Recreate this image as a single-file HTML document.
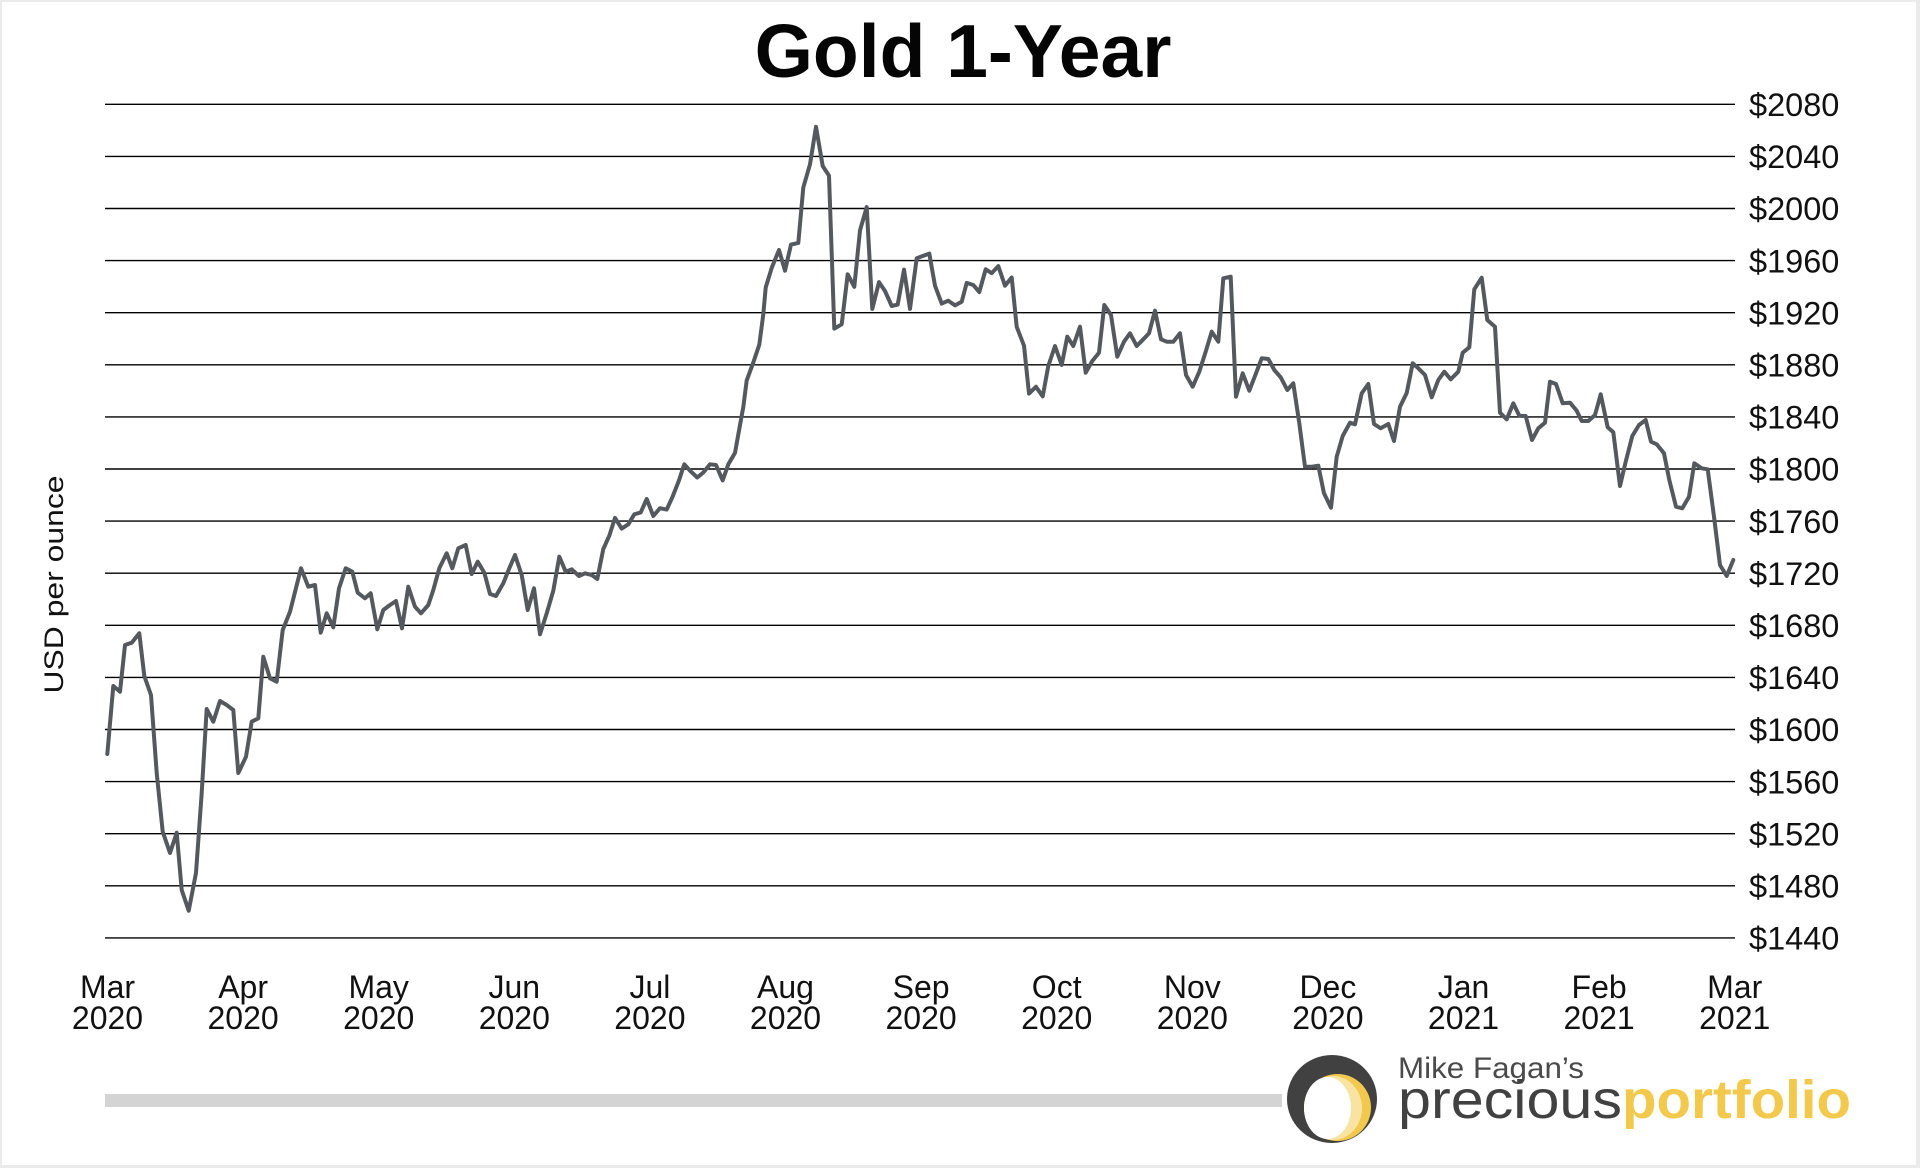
<!DOCTYPE html>
<html>
<head>
<meta charset="utf-8">
<style>
html,body{margin:0;padding:0;background:#fff;}
svg{display:block;}
text{font-family:"Liberation Sans", Arial, sans-serif;}
</style>
</head>
<body>
<svg width="1920" height="1168" viewBox="0 0 1920 1168" xmlns="http://www.w3.org/2000/svg">
  <rect x="0" y="0" width="1920" height="1168" fill="#ebebeb"/>
  <rect x="2" y="2" width="1914" height="1163" fill="#ffffff"/>

  <!-- Title -->
  <text x="963" y="77" text-anchor="middle" font-size="75" font-weight="bold" fill="#050505">Gold 1-Year</text>

  <!-- Grid lines -->
  <g stroke="#000" stroke-width="1.4">
    <line x1="105" x2="1735" y1="104.3" y2="104.3"/>
    <line x1="105" x2="1735" y1="156.4" y2="156.4"/>
    <line x1="105" x2="1735" y1="208.5" y2="208.5"/>
    <line x1="105" x2="1735" y1="260.6" y2="260.6"/>
    <line x1="105" x2="1735" y1="312.7" y2="312.7"/>
    <line x1="105" x2="1735" y1="364.8" y2="364.8"/>
    <line x1="105" x2="1735" y1="416.9" y2="416.9"/>
    <line x1="105" x2="1735" y1="469.0" y2="469.0"/>
    <line x1="105" x2="1735" y1="521.1" y2="521.1"/>
    <line x1="105" x2="1735" y1="573.2" y2="573.2"/>
    <line x1="105" x2="1735" y1="625.3" y2="625.3"/>
    <line x1="105" x2="1735" y1="677.4" y2="677.4"/>
    <line x1="105" x2="1735" y1="729.5" y2="729.5"/>
    <line x1="105" x2="1735" y1="781.6" y2="781.6"/>
    <line x1="105" x2="1735" y1="833.7" y2="833.7"/>
    <line x1="105" x2="1735" y1="885.8" y2="885.8"/>
    <line x1="105" x2="1735" y1="937.9" y2="937.9"/>
  </g>

  <!-- Y tick labels -->
  <g font-size="32.5" fill="#111">
    <text x="1749" y="116">$2080</text>
    <text x="1749" y="168.1">$2040</text>
    <text x="1749" y="220.2">$2000</text>
    <text x="1749" y="272.3">$1960</text>
    <text x="1749" y="324.4">$1920</text>
    <text x="1749" y="376.5">$1880</text>
    <text x="1749" y="428.6">$1840</text>
    <text x="1749" y="480.7">$1800</text>
    <text x="1749" y="532.8">$1760</text>
    <text x="1749" y="584.9">$1720</text>
    <text x="1749" y="637">$1680</text>
    <text x="1749" y="689.1">$1640</text>
    <text x="1749" y="741.2">$1600</text>
    <text x="1749" y="793.3">$1560</text>
    <text x="1749" y="845.4">$1520</text>
    <text x="1749" y="897.5">$1480</text>
    <text x="1749" y="949.6">$1440</text>
  </g>

  <!-- X tick labels -->
  <g font-size="32" fill="#111" text-anchor="middle">
    <text x="107.5" y="998">Mar</text><text x="107.5" y="1029">2020</text>
    <text x="243.1" y="998">Apr</text><text x="243.1" y="1029">2020</text>
    <text x="378.7" y="998">May</text><text x="378.7" y="1029">2020</text>
    <text x="514.3" y="998">Jun</text><text x="514.3" y="1029">2020</text>
    <text x="649.9" y="998">Jul</text><text x="649.9" y="1029">2020</text>
    <text x="785.5" y="998">Aug</text><text x="785.5" y="1029">2020</text>
    <text x="921.1" y="998">Sep</text><text x="921.1" y="1029">2020</text>
    <text x="1056.7" y="998">Oct</text><text x="1056.7" y="1029">2020</text>
    <text x="1192.3" y="998">Nov</text><text x="1192.3" y="1029">2020</text>
    <text x="1327.9" y="998">Dec</text><text x="1327.9" y="1029">2020</text>
    <text x="1463.5" y="998">Jan</text><text x="1463.5" y="1029">2021</text>
    <text x="1599.1" y="998">Feb</text><text x="1599.1" y="1029">2021</text>
    <text x="1734.7" y="998">Mar</text><text x="1734.7" y="1029">2021</text>
  </g>

  <!-- Y axis title -->
  <text transform="translate(63,584.5) rotate(-90)" text-anchor="middle" font-size="27" fill="#111" textLength="218" lengthAdjust="spacingAndGlyphs">USD per ounce</text>

  <!-- Data line -->
  <polyline fill="none" stroke="#55585c" stroke-width="4" stroke-linejoin="round" stroke-linecap="round" points="
107.3,754 113.3,686 120,691.7 125,645 131.7,642.7 139.3,633.3 144.3,676 151,695 156.7,773 162.7,831.7 170,853 176.7,832.7 181.7,890 188.7,910.7 196,873 201.7,793 206.7,709 213.3,721.7 220,701 226.7,705 233.3,710 238.3,773 246,756.7 251.7,721.7 258.3,718.3 263.3,656.7 270,678.3 276.7,681.7 282.7,630 290,611.7 301,568.3 308.3,586.7 315,585 320.7,632.7 326.7,613.3 333.3,627.3 339,588.3 345.7,568.3 352.3,571.7 357.7,592.7 365,598.3 370.7,593.3 377.3,629.3 383.3,610 390,605 396,601 402,628.3 408.3,586.7 415,606.7 421,613.3 428.3,605 433.3,590 439.3,568.3 446.7,553.3 452.3,568.3 458.3,548.3 465.7,545 471.7,574 477.7,561.7 484.3,572.7 490,594 496,596 503.3,583.3 509.3,568.3 515,555 521.7,575 527.7,610 534,588.3 540,634.3 546.7,613.3 553.3,590.7 559.3,556.7 565.7,571.7 571.7,569.3 579,576 585,573.3 591.7,575 597.3,579 603.3,549 609.3,535.7 615,517.9 621.7,528.6 628.3,524.3 634.3,514.3 640.7,512.5 646.7,498.9 653.3,516 660,508.2 666.7,509.6 672.7,496.4 679,480.4 684.3,464.3 690.7,471.4 697.3,477.5 703.3,472.5 710,464.3 716,465 722.7,480.4 728.3,464.3 735,452.9 740,425 743.3,407 746.7,380.4 753.3,362.5 759.3,344.6 763.3,314.3 765.7,287.5 771.7,267.9 779,250 785,270.7 791,244.6 798.3,242.9 803.3,187.5 810,164.3 816,126.8 822.7,166 829,175.7 834.3,328.6 841.7,324.3 847.7,274.3 854.3,286.8 860,230.4 866.7,207.1 872.3,308.9 879,282.1 885,291 891.7,306 897.7,304.6 904,269.6 910,308.9 916.7,258.2 922.7,256 929.3,253.6 935,285.7 941.7,303.6 948.3,300.7 955,305.4 961.7,301.8 966.7,282.9 973.3,285 979.3,292.1 985.7,269.3 991.7,273.2 998.3,266.1 1005,285.7 1011.7,277.5 1016.7,326.8 1024,345.7 1029,393.6 1036,386.8 1042.7,396.4 1048.3,366 1055,346 1061.7,365 1067.3,336.7 1073.3,346 1080,326.7 1085.7,372.7 1092.3,361 1099,352.7 1104.3,305 1111,315 1117.3,356.7 1124,341.7 1130,333.3 1136.7,346 1143.3,339.3 1149,333.3 1155,310.7 1161,339.3 1166.7,341.7 1173.3,341.7 1180,333.3 1186,375 1192.7,386.7 1199.3,371.7 1205.7,351.7 1211.7,331.7 1218.3,341.7 1223.3,278.3 1230.7,276.7 1236,396.7 1242.7,373.3 1249.3,390.7 1256,373.3 1261.7,358.3 1268.3,359 1274.3,370 1280.7,377.3 1287.3,390 1293.3,383.3 1299.3,423.3 1305,466.7 1311.7,466.7 1318.3,465.7 1324,493.3 1331,507.7 1336.7,456.7 1342.7,436 1350,422.7 1355,424.3 1361.7,393.3 1368.3,384 1374,424 1380.7,428.3 1388.3,424 1394,441 1400,406.7 1406.7,393 1412.7,363.3 1418.3,368.3 1425,375 1431.7,397.3 1438.3,380 1444.3,371.7 1450.7,379.3 1458.3,371.7 1462.7,352.7 1469.3,347.3 1474.3,289.3 1481.7,277.7 1487.3,320 1495,326.7 1500,412.7 1506.7,419.3 1513.3,403.3 1519.3,415.7 1525.7,416 1532,440 1538.3,428.3 1545,422.7 1550,381.7 1556,384 1562.7,403.3 1570,402.7 1576.7,410.7 1581.7,421 1588.3,421 1595,415 1600.7,394.3 1607.7,427.3 1613.3,432.3 1620,486 1625.7,461.7 1632.3,436 1639,425 1645.7,420 1651,441.7 1656.7,444.3 1664,453.3 1669.3,480 1676,506.7 1682.3,508.3 1689,496.7 1694.3,463.3 1701.7,468.3 1707.7,469.3 1714,516.7 1720,565 1726.7,576 1733.3,560"/>

  <!-- Footer bar -->
  <rect x="105" y="1094" width="1177" height="13" fill="#d4d4d4"/>

  <!-- Logo -->
  <ellipse cx="1332" cy="1099" rx="45" ry="44" fill="#414141"/>
  <ellipse cx="1337.5" cy="1107.5" rx="33.5" ry="33.5" fill="#f2c94c"/>
  <ellipse cx="1333" cy="1108" rx="29" ry="32" fill="#f9e3a2"/>
  <ellipse cx="1327.5" cy="1108" rx="23.5" ry="31" fill="#ffffff"/>

  <text x="1398" y="1078" font-size="30" fill="#4a4a4a" textLength="186" lengthAdjust="spacingAndGlyphs">Mike Fagan’s</text>
  <text x="1398" y="1118" font-size="54" fill="#414141" textLength="224" lengthAdjust="spacingAndGlyphs">precious</text>
  <text x="1622" y="1118" font-size="54" font-weight="bold" fill="#f2c94c" textLength="229" lengthAdjust="spacingAndGlyphs">portfolio</text>
</svg>
</body>
</html>
